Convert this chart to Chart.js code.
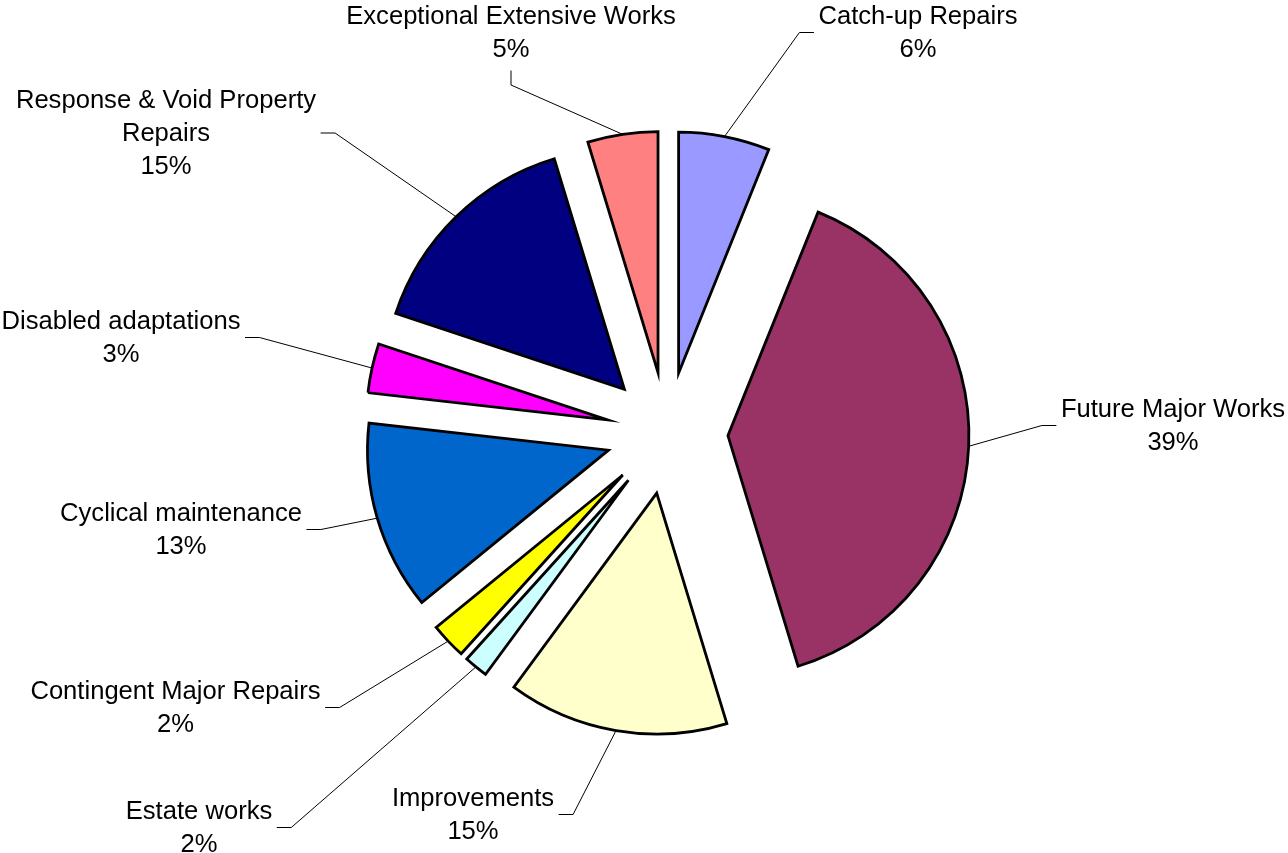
<!DOCTYPE html>
<html>
<head>
<meta charset="utf-8">
<title>Repairs and maintenance split</title>
<script src="https://cdn.jsdelivr.net/npm/chart.js@4.4.1/dist/chart.umd.min.js"></script>
<style>
    html, body { margin: 0; padding: 0; background: #fff; }
    #wrap { width: 1288px; height: 853px; position: relative; }
</style>
</head>
<body>
<div id="wrap"><canvas id="chart1"></canvas></div>
<script>
// slices, clockwise from 12 o'clock
var categories = [
    'Catch-up Repairs',
    'Future Major Works',
    'Improvements',
    'Estate works',
    'Contingent Major Repairs',
    'Cyclical maintenance',
    'Disabled adaptations',
    ['Response & Void Property', 'Repairs'],
    'Exceptional Extensive Works'
];
var shares = [6.1, 39.2, 14.8, 1.6, 2.4, 12.7, 3.3, 15.2, 4.7];
var colors = ['#9999FF', '#993366', '#FFFFCC', '#CCFFFF', '#FFFF00', '#0066CC', '#FF00FF', '#000080', '#FF8080'];

// label text: centre x and baseline of the first line
var labelSpots = [
    [918, 24], [1173, 417], [473, 806], [199, 819], [175.5, 699],
    [181, 521], [121, 329], [166, 108], [511, 23.5]
];

var explodeBy = 61;   // every slice pulled out the same distance
var lineGap = 33;

// push each arc out along its bisector (plain translation)
var explodePlugin = {
    id: 'explode',
    afterDatasetsUpdate: function(chart) {
        chart.getDatasetMeta(0).data.forEach(function(arc) {
            var mid = (arc.startAngle + arc.endAngle) / 2;
            arc.x += Math.cos(mid) * explodeBy;
            arc.y += Math.sin(mid) * explodeBy;
        });
    }
};

// name + percent labels with leader lines
var labelPlugin = {
    id: 'pieLabels',
    afterDatasetsDraw: function(chart) {
        var ctx = chart.ctx;
        var meta = chart.getDatasetMeta(0);
        var total = shares.reduce(function(a, b) { return a + b; }, 0);

        ctx.save();
        ctx.font = '25.6px "Liberation Sans", Arial, sans-serif';
        ctx.fillStyle = '#000';
        ctx.strokeStyle = '#000';
        ctx.lineWidth = 1;
        ctx.textAlign = 'center';
        ctx.textBaseline = 'alphabetic';

        meta.data.forEach(function(arc, i) {
            var lines = [].concat(categories[i]);
            lines.push(Math.round(shares[i] / total * 100) + '%');

            var cx = labelSpots[i][0];
            var base = labelSpots[i][1];
            var w = 0;
            lines.forEach(function(t, k) {
                ctx.fillText(t, cx, base + k * lineGap);
                w = Math.max(w, ctx.measureText(t).width);
            });
            var lastBase = base + (lines.length - 1) * lineGap;
            var left = cx - w / 2, right = cx + w / 2;

            var mid = (arc.startAngle + arc.endAngle) / 2;
            var ax = arc.x + Math.cos(mid) * arc.outerRadius;
            var ay = arc.y + Math.sin(mid) * arc.outerRadius;

            var p1, p2;
            var sy = (base + lastBase) / 2 - 8;
            if (ax > left && ax < right) {
                p1 = [cx, lastBase + 14];
                p2 = [cx, lastBase + 28.5];
            } else if (ax <= left) {
                p1 = [left - 4.5, sy];
                p2 = [left - 19, sy];
            } else {
                p1 = [right + 4.5, sy];
                p2 = [right + 19, sy];
            }
            ctx.beginPath();
            ctx.moveTo(p1[0], p1[1]);
            ctx.lineTo(p2[0], p2[1]);
            ctx.lineTo(ax, ay);
            ctx.stroke();
        });
        ctx.restore();
    }
};

var chart1 = new Chart(document.getElementById('chart1'), {
    type: 'pie',
    data: {
        labels: categories,
        datasets: [{
            data: shares,
            backgroundColor: colors,
            borderColor: '#000',
            borderWidth: 2.8,
            borderJoinStyle: 'miter'
        }]
    },
    options: {
        responsive: true,
        maintainAspectRatio: false,
        animation: false,
        events: [],
        radius: 241,
        layout: { padding: { left: 46, top: 13, right: 0, bottom: 0 } },
        plugins: {
            legend: { display: false },
            tooltip: { enabled: false }
        }
    },
    plugins: [explodePlugin, labelPlugin]
});
</script>
</body>
</html>
